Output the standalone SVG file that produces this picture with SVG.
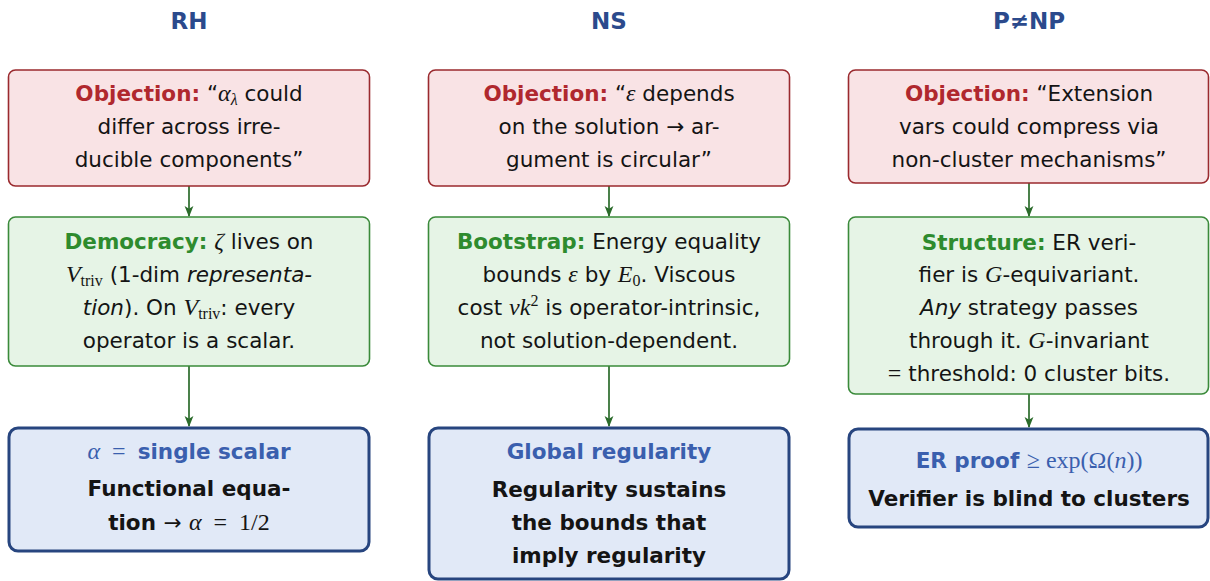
<svg xmlns="http://www.w3.org/2000/svg" width="1210" height="581" viewBox="0 0 1210 581">
<defs>
<style>
.title{font-family:'DejaVu Sans',sans-serif;font-weight:bold;font-size:23px;fill:#2b4a8c;text-anchor:middle}
.t{font-family:'DejaVu Sans',sans-serif;font-size:21.5px;fill:#141414;text-anchor:middle}
.b{font-weight:bold}
.i{font-style:italic}
.m{font-family:'Liberation Serif',serif;font-style:italic;font-size:24px;font-weight:normal}
.r{font-family:'Liberation Serif',serif;font-style:normal;font-size:24px;font-weight:normal}
.ar{font-family:'DejaVu Sans',sans-serif;font-style:normal;font-weight:normal}
.s{font-size:16px}
.red{fill:#b0282e}
.grn{fill:#2e8b2e}
.blu{fill:#3a5fae}
.obj{fill:#f9e3e5;stroke:#9a2a2e;stroke-width:1.6}
.dem{fill:#e6f4e6;stroke:#3a8a3a;stroke-width:1.6}
.res{fill:#e1e9f7;stroke:#27457f;stroke-width:3}
.con{stroke:#2b6b2b;stroke-width:1.7;fill:none}
</style>
<marker id="ah" viewBox="0 0 10 10" refX="9" refY="5" markerWidth="11" markerHeight="11" markerUnits="userSpaceOnUse" orient="auto">
<path d="M0,1 L10,5 L0,9 L2.5,5 z" fill="#2b6b2b"/>
</marker>
</defs>
<rect width="1210" height="581" fill="#ffffff"/>

<g id="titles">
<text class="title" x="189" y="29">RH</text>
<text class="title" x="609" y="29">NS</text>
<text class="title" x="1029" y="29">P≠NP</text>
</g>

<g id="connectors">
<line class="con" x1="189" y1="186" x2="189" y2="216" marker-end="url(#ah)"/>
<line class="con" x1="189" y1="366" x2="189" y2="426" marker-end="url(#ah)"/>
<line class="con" x1="609" y1="186" x2="609" y2="216" marker-end="url(#ah)"/>
<line class="con" x1="609" y1="366" x2="609" y2="426" marker-end="url(#ah)"/>
<line class="con" x1="1029" y1="183" x2="1029" y2="216" marker-end="url(#ah)"/>
<line class="con" x1="1029" y1="394" x2="1029" y2="427" marker-end="url(#ah)"/>
</g>

<g id="rh-objection">
<rect class="obj" x="8.5" y="70" width="361" height="116" rx="7"/>
<text class="t" x="189" y="101"><tspan class="b red">Objection:</tspan>  “<tspan class="m">α</tspan><tspan class="m s" dy="4">λ</tspan><tspan dy="-4"> could</tspan></text>
<text class="t" x="189" y="134">differ across irre-</text>
<text class="t" x="189" y="167">ducible components”</text>
</g>

<g id="rh-democracy">
<rect class="dem" x="8.5" y="217" width="361" height="149" rx="7"/>
<text class="t" x="189" y="249"><tspan class="b grn">Democracy:</tspan> <tspan class="m">ζ</tspan> lives on</text>
<text class="t" x="189" y="282"><tspan class="m">V</tspan><tspan class="r s" dy="4">triv</tspan><tspan dy="-4"> (1-dim </tspan><tspan class="i">representa-</tspan></text>
<text class="t" x="189" y="315"><tspan class="i">tion</tspan>). On <tspan class="m">V</tspan><tspan class="r s" dy="4">triv</tspan><tspan dy="-4">: every</tspan></text>
<text class="t" x="189" y="348">operator is a scalar.</text>
</g>

<g id="rh-result">
<rect class="res" x="9" y="428" width="360" height="123" rx="9"/>
<text class="t b blu" x="189" y="459" xml:space="preserve"><tspan class="m">α</tspan><tspan class="r">  =  </tspan>single scalar</text>
<text class="t b" x="189" y="496">Functional equa-</text>
<text class="t b" x="189" y="530" xml:space="preserve">tion <tspan class="ar">→</tspan> <tspan class="m">α</tspan><tspan class="r">  =  1/2</tspan></text>
</g>

<g id="ns-objection">
<rect class="obj" x="428.5" y="70" width="361" height="116" rx="7"/>
<text class="t" x="609" y="101"><tspan class="b red">Objection:</tspan>  “<tspan class="m">ε</tspan> depends</text>
<text class="t" x="609" y="134">on the solution <tspan class="ar">→</tspan> ar-</text>
<text class="t" x="609" y="167">gument is circular”</text>
</g>

<g id="ns-bootstrap">
<rect class="dem" x="428.5" y="217" width="361" height="149" rx="7"/>
<text class="t" x="609" y="249"><tspan class="b grn">Bootstrap:</tspan>  Energy equality</text>
<text class="t" x="609" y="282">bounds <tspan class="m">ε</tspan> by <tspan class="m">E</tspan><tspan class="r s" dy="4">0</tspan><tspan dy="-4">.  Viscous</tspan></text>
<text class="t" x="609" y="315">cost <tspan class="m">νk</tspan><tspan class="r s" dy="-9">2</tspan><tspan dy="9"> is operator-intrinsic,</tspan></text>
<text class="t" x="609" y="348">not solution-dependent.</text>
</g>

<g id="ns-result">
<rect class="res" x="429" y="428" width="360" height="151" rx="9"/>
<text class="t b blu" x="609" y="459">Global regularity</text>
<text class="t b" x="609" y="497">Regularity sustains</text>
<text class="t b" x="609" y="530">the bounds that</text>
<text class="t b" x="609" y="563">imply regularity</text>
</g>

<g id="pnp-objection">
<rect class="obj" x="848.5" y="70" width="360" height="113" rx="7"/>
<text class="t" x="1029" y="101"><tspan class="b red">Objection:</tspan>  “Extension</text>
<text class="t" x="1029" y="134">vars could compress via</text>
<text class="t" x="1029" y="167">non-cluster mechanisms”</text>
</g>

<g id="pnp-structure">
<rect class="dem" x="848.5" y="217" width="360" height="177" rx="7"/>
<text class="t" x="1029" y="250"><tspan class="b grn">Structure:</tspan>  ER veri-</text>
<text class="t" x="1029" y="282">fier is <tspan class="m">G</tspan>-equivariant.</text>
<text class="t" x="1029" y="315"><tspan class="i">Any</tspan> strategy passes</text>
<text class="t" x="1029" y="348">through it.  <tspan class="m">G</tspan>-invariant</text>
<text class="t" x="1029" y="381"><tspan class="r">=</tspan> threshold:  0 cluster bits.</text>
</g>

<g id="pnp-result">
<rect class="res" x="849" y="429" width="359" height="98" rx="9"/>
<text class="t b blu" x="1029" y="468">ER proof <tspan class="r">≥ exp(Ω(</tspan><tspan class="m">n</tspan><tspan class="r">))</tspan></text>
<text class="t b" x="1029" y="506">Verifier is blind to clusters</text>
</g>
</svg>
